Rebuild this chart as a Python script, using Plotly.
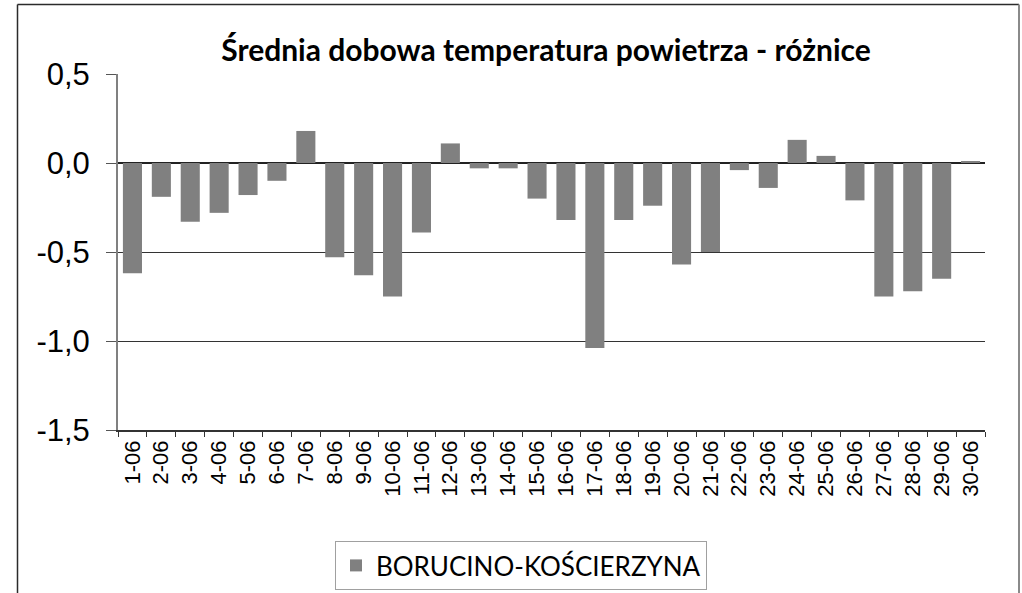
import plotly.graph_objects as go

days = [f"{d}-06" for d in range(1, 31)]
values = [-0.62, -0.19, -0.33, -0.28, -0.18, -0.10, 0.18, -0.53, -0.63, -0.75,
          -0.39, 0.11, -0.03, -0.03, -0.20, -0.32, -1.04, -0.32, -0.24, -0.57,
          -0.50, -0.04, -0.14, 0.13, 0.04, -0.21, -0.75, -0.72, -0.65, 0.01]
series_name = "BORUCINO-KOŚCIERZYNA"
title_text = "Średnia dobowa temperatura powietrza - różnice"
y_tickvals = [0.5, 0.0, -0.5, -1.0, -1.5]
y_ticktext = ["0,5", "0,0", "-0,5", "-1,0", "-1,5"]

W, H = 1022, 593
L, R, T, B = 118, 985, 74, 430

fig = go.Figure()
fig.add_trace(go.Bar(
    x=days, y=values, name=series_name,
    marker=dict(color="#808080", line=dict(width=0)),
    showlegend=True,
))

def px_x(x):  # page x -> paper
    return (x - L) / (R - L)

def px_y(y):  # page y -> paper
    return (B - y) / (B - T)

border = "#2b2b2b"
shapes = [
    dict(type="line", xref="paper", yref="paper", x0=px_x(17.5), x1=px_x(1019), y0=px_y(4.5), y1=px_y(4.5),
         line=dict(color=border, width=1.5)),
    dict(type="line", xref="paper", yref="paper", x0=px_x(17.5), x1=px_x(17.5), y0=px_y(4.5), y1=px_y(600),
         line=dict(color=border, width=1.5)),
    dict(type="line", xref="paper", yref="paper", x0=px_x(1019), x1=px_x(1019), y0=px_y(4.5), y1=px_y(600),
         line=dict(color="#8a8a8a", width=2)),
]

fig.update_layout(
    width=W, height=H,
    margin=dict(l=L, r=W - R, t=T, b=H - B, pad=0),
    paper_bgcolor="white", plot_bgcolor="white",
    title=dict(text=f"<b>{title_text}</b>", x=546 / W, xanchor="center",
               y=1 - 50 / H, yanchor="middle",
               font=dict(family="Lato", size=30, color="black")),
    bargap=0.34,
    shapes=shapes,
    showlegend=True,
    legend=dict(
        orientation="h", xref="container", yref="container",
        x=521 / W, xanchor="center", y=1 - 541 / H, yanchor="top",
        bordercolor="#a0a0a0", borderwidth=1, bgcolor="white",
        font=dict(family="Lato", size=26, color="black"),
        itemsizing="constant", itemwidth=30,
    ),
    xaxis=dict(
        type="category", range=[-0.5, 29.5], automargin=False,
        tickangle=-90, tickson="boundaries", ticks="outside", ticklen=5, tickcolor="#333",
        showline=True, linecolor="#333", linewidth=1.5,
        showgrid=False, zeroline=False,
        tickfont=dict(family="Liberation Sans", size=22, color="black"),
    ),
    yaxis=dict(
        range=[-1.5, 0.5], tickvals=y_tickvals, ticktext=y_ticktext, automargin=False,
        ticks="outside", ticklen=10, tickcolor="#555",
        ticklabelstandoff=10,
        showline=True, linecolor="#808080", linewidth=2,
        showgrid=True, gridcolor="#333", gridwidth=1,
        zeroline=True, zerolinecolor="#222", zerolinewidth=1.5,
        tickfont=dict(family="Liberation Sans", size=31, color="black"),
    ),
)

fig.write_html("out.html", config={"displayModeBar": False},
               post_script="document.body.style.margin='0';document.body.style.overflow='hidden';")
